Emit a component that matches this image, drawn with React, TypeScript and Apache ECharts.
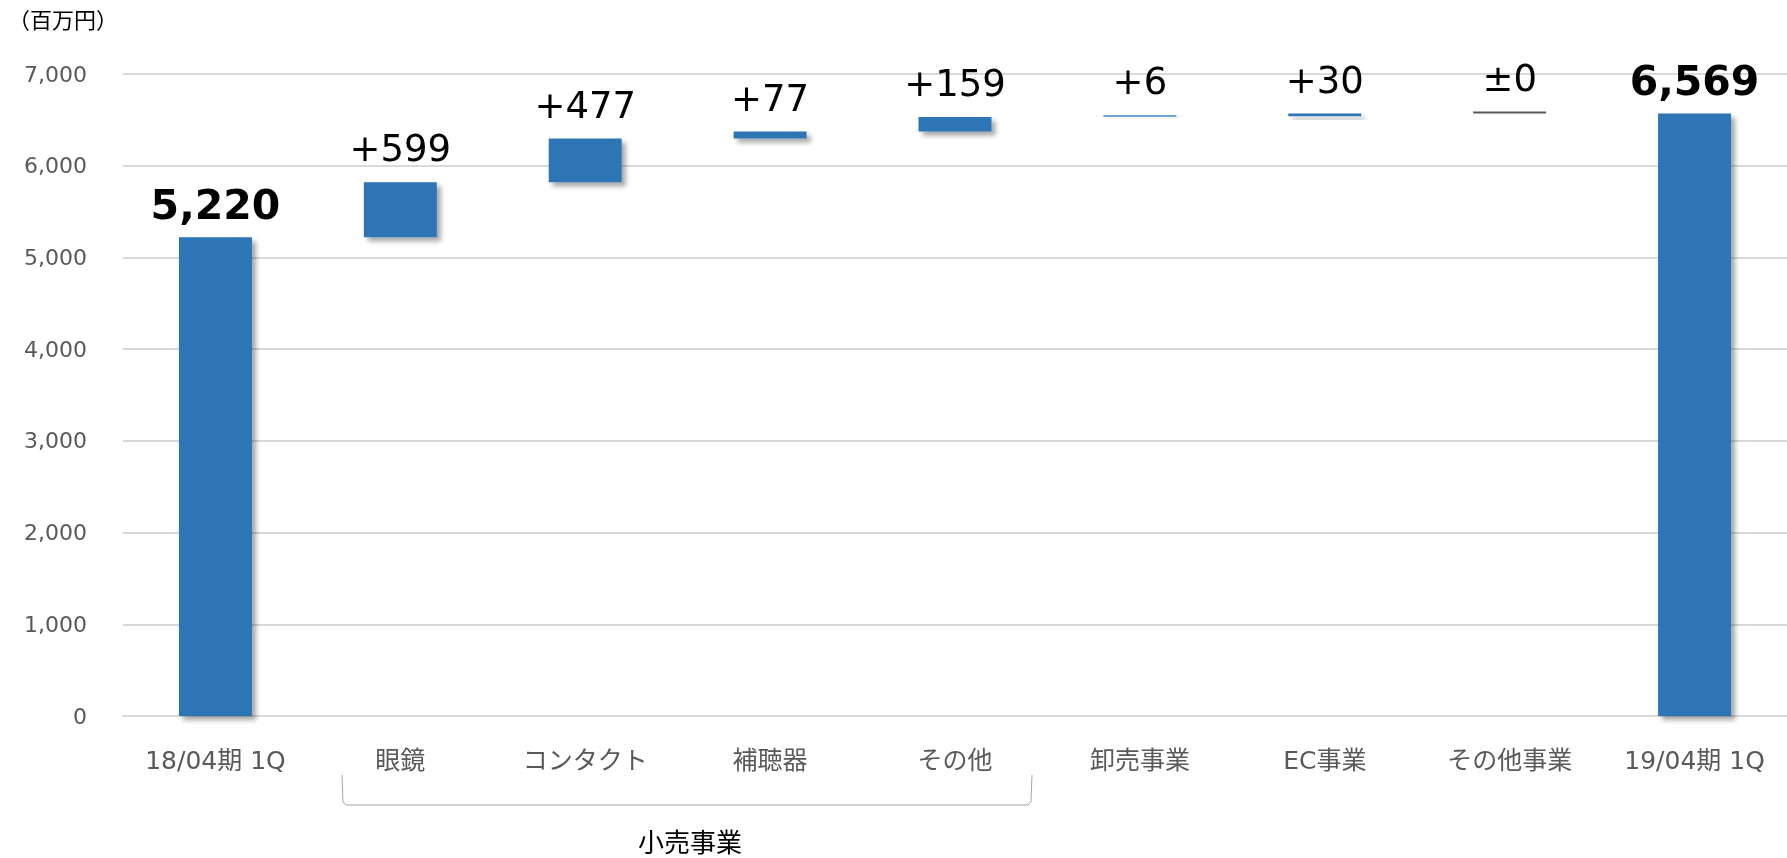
import React, { useEffect, useRef } from "react";
import * as echarts from "echarts";

const categories = [
  "18/04期 1Q",
  "眼鏡",
  "コンタクト",
  "補聴器",
  "その他",
  "卸売事業",
  "EC事業",
  "その他事業",
  "19/04期 1Q",
];
const startTotal = 5220;
const endTotal = 6569;
const deltas = [599, 477, 77, 159, 6, 30, 0];
const deltaLabels = ["+599", "+477", "+77", "+159", "+6", "+30", "±0"];
const totalLabels = ["5,220", "6,569"];
const yTicks = [0, 1000, 2000, 3000, 4000, 5000, 6000, 7000];
const unitLabel = "（百万円）";
const groupLabel = "小売事業";

const FONT = "'DejaVu Sans', 'Noto Sans CJK JP', sans-serif";
const CJK = "'Noto Sans CJK JP', sans-serif";
const BLUE = "#2E75B6";

export default function App() {
  const ref = useRef<HTMLDivElement>(null);
  useEffect(() => {
    if (!ref.current) return;
    const chart = echarts.init(ref.current, null, { renderer: "svg" });

    // base (invisible) values for waterfall
    const base: number[] = [0];
    let cum = startTotal;
    deltas.forEach((d) => {
      base.push(cum);
      cum += d;
    });
    base.push(0);

    const shadow = {
      shadowBlur: 5,
      shadowOffsetX: 4,
      shadowOffsetY: 4,
      shadowColor: "rgba(0,0,0,0.35)",
    };

    const totalLabel = (text: string) => ({
      show: true,
      position: "top",
      distance: 12,
      formatter: text,
      fontSize: 41,
      fontWeight: "bold",
      color: "#000",
      fontFamily: FONT,
    });

    const valueData: any[] = [];
    valueData.push({
      value: startTotal,
      itemStyle: { color: BLUE, ...shadow },
      label: totalLabel(totalLabels[0]),
    });
    deltas.forEach((d, i) => {
      const isZero = d === 0;
      valueData.push({
        value: d,
        itemStyle: isZero
          ? { color: "#595959" }
          : d < 10
          ? { color: "#6FA5D8", ...shadow, shadowColor: "rgba(0,0,0,0.2)" }
          : { color: BLUE, ...shadow },
        label: {
          show: true,
          position: "top",
          distance: 15,
          formatter: deltaLabels[i],
          fontSize: 37,
          color: "#000",
          fontFamily: FONT,
        },
      });
    });
    valueData.push({
      value: endTotal,
      itemStyle: { color: BLUE, ...shadow },
      label: totalLabel(totalLabels[1]),
    });

    chart.setOption({
      animation: false,
      textStyle: { fontFamily: FONT },
      grid: { left: 123, right: 0, top: 74, bottom: 142, containLabel: false },
      xAxis: {
        type: "category",
        data: categories,
        axisTick: { show: false },
        axisLine: { lineStyle: { color: "#D9D9D9", width: 2 } },
        axisLabel: {
          color: "#595959",
          fontSize: 25,
          margin: 32,
          interval: 0,
          fontFamily: FONT,
        },
      },
      yAxis: {
        type: "value",
        min: yTicks[0],
        max: yTicks[yTicks.length - 1],
        interval: 1000,
        axisLine: { show: false },
        axisTick: { show: false },
        splitLine: { lineStyle: { color: "#D9D9D9", width: 2 } },
        axisLabel: {
          color: "#595959",
          fontSize: 22,
          margin: 36,
          fontFamily: FONT,
          formatter: (v: number) => v.toLocaleString("en-US"),
        },
      },
      graphic: [
        {
          type: "text",
          left: 8,
          top: 7,
          style: {
            text: unitLabel,
            fontSize: 22,
            fill: "#000",
            fontFamily: CJK,
          },
        },
        {
          type: "polyline",
          shape: {
            points: [
              [342, 775],
              [343, 802],
              [346, 805],
              [1028, 805],
              [1031, 802],
              [1032, 775],
            ],
          },
          style: { stroke: "#A6A6A6", lineWidth: 1, fill: "none" },
        },
        {
          type: "text",
          x: 690,
          y: 840,
          style: {
            text: groupLabel,
            fontSize: 26,
            fill: "#000",
            fontFamily: CJK,
            align: "center",
            verticalAlign: "middle",
          },
        },
      ],
      series: [
        {
          type: "bar",
          stack: "w",
          data: base,
          barWidth: 73,
          itemStyle: { color: "transparent" },
          emphasis: { disabled: true },
          silent: true,
        },
        {
          type: "bar",
          stack: "w",
          data: valueData,
          barWidth: 73,
          barMinHeight: 2,
        },
      ],
    });
    return () => chart.dispose();
  }, []);
  return (
    <div
      ref={ref}
      style={{ position: "fixed", left: 0, top: 0, width: "1787px", height: "858px" }}
    />
  );
}
